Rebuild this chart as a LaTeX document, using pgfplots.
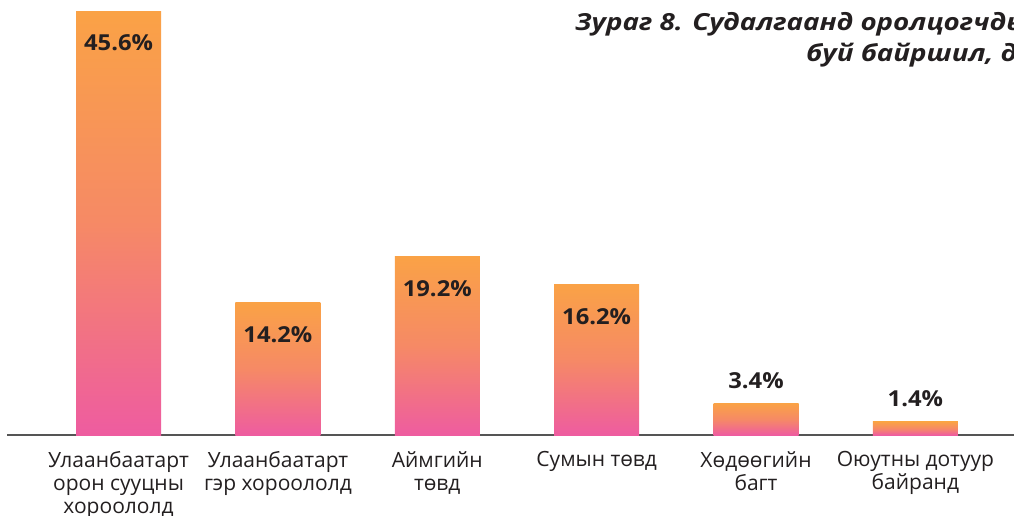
\documentclass[border=0pt]{standalone}
\usepackage{pgfplots}
\pgfplotsset{compat=1.18}
\usepackage{fontspec}
\setmainfont{Open Sans}
\newfontfamily\titlefont[FakeStretch=1.18]{Open Sans}
\newfontfamily\labfont[FakeStretch=1.08]{Open Sans}
\definecolor{barTop}{RGB}{250,162,70}
\definecolor{barBot}{RGB}{238,92,160}
\definecolor{txt}{RGB}{35,31,32}
\definecolor{axc}{RGB}{85,85,85}
\begin{document}
\begin{tikzpicture}[x=1pt,y=1pt]
\path[use as bounding box] (0,0) rectangle (1014,515);
\begin{scope}
\clip (0,0) rectangle (1014,515);
\node[anchor=base west, inner sep=0pt, text=txt, font=\titlefont\fontsize{23.5}{28}\selectfont\bfseries\itshape] at (575,484) {Зураг 8. Судалгаанд оролцогчдын одоо амьдарч};
\node[anchor=base west, inner sep=0pt, text=txt, font=\titlefont\fontsize{23.5}{28}\selectfont\bfseries\itshape] at (806,453) {буй байршил, дүнгээр};
\begin{axis}[
  at={(7pt,80pt)}, anchor=south west,
  scale only axis, width=1012pt, height=427.7pt,
  xmin=-0.70, xmax=5.65, ymin=0, ymax=46,
  axis x line*=bottom, axis y line=none,
  x axis line style={draw=axc, line width=1.5pt},
  xtick={0,1,2,3,4,5},
  xticklabels={{Улаанбаатарт\\орон сууцны\\хороололд},{Улаанбаатарт\\гэр хороололд},{Аймгийн\\төвд},{Сумын төвд},{Хөдөөгийн\\багт},{Оюутны дотуур\\байранд}},
  major tick length=0pt,
  xticklabel style={align=center, anchor=north, inner sep=0pt, yshift=-16pt, text=txt, font=\fontsize{21}{23}\selectfont},
  ytick=\empty,
  clip=false,
  mybar/.style={ybar, bar width=85pt, bar shift=0pt, draw=none, top color=barTop, bottom color=barBot, middle color=barTop!65!barBot,
    nodes near coords, point meta=explicit symbolic},
  inlab/.style={every node near coord/.style={anchor=center, yshift=-32pt, text=txt, font=\labfont\fontsize{22}{26}\selectfont\bfseries}},
  outlab/.style={every node near coord/.style={anchor=center, yshift=23pt, text=txt, font=\labfont\fontsize{22}{26}\selectfont\bfseries}},
]
\addplot[mybar, inlab] coordinates {(0,45.6) [45.6\%]};
\addplot[mybar, inlab] coordinates {(1,14.2) [14.2\%]};
\addplot[mybar, inlab] coordinates {(2,19.2) [19.2\%]};
\addplot[mybar, inlab] coordinates {(3,16.2) [16.2\%]};
\addplot[mybar, outlab] coordinates {(4,3.4) [3.4\%]};
\addplot[mybar, outlab] coordinates {(5,1.4) [1.4\%]};
\end{axis}
\end{scope}
\end{tikzpicture}
\end{document}
